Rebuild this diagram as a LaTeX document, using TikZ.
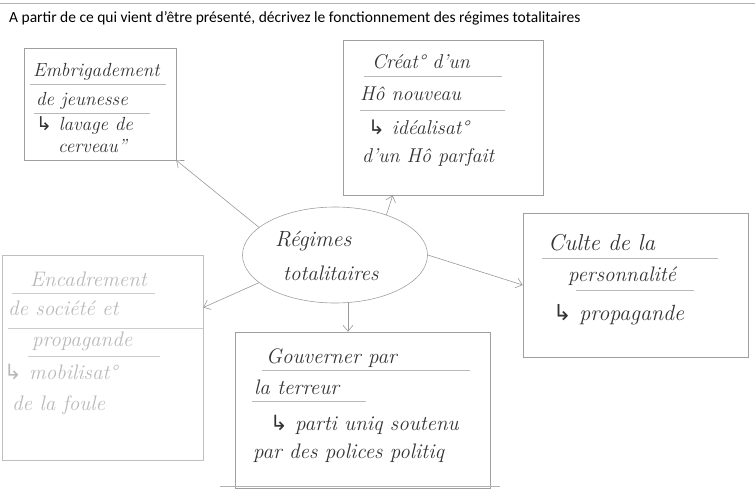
\documentclass[tikz,border=0pt]{standalone}
\usepackage{fontspec}
\usepackage{tikz}
\usetikzlibrary{shapes.geometric,arrows.meta}
\newfontfamily\titlefont{Carlito}
\newfontfamily\symfont{DejaVu Sans}
\newcommand{\hook}{{\symfont\char"21B3}}
\newcommand{\handsize}[1]{\fontsize{#1}{#1}\selectfont\itshape}

\tikzset{
  box/.style={draw=gray!75, line width=0.6pt, minimum width=#1},
  hand/.style={font=\handsize{19}, text=black!80, anchor=base west, inner sep=0pt},
  faint/.style={hand, font=\handsize{21}, text=gray!55},
  uline/.style={draw=gray!55, line width=0.5pt},
  link/.style={draw=gray!80, line width=0.6pt, -{Straight Barb[length=6pt,width=10pt]}}
}

\begin{document}
\begin{tikzpicture}[x=1pt,y=-1pt]
\useasboundingbox (0,0) rectangle (755,493);
\draw[gray!60, line width=0.8pt] (0,3) -- (755,3);
\node[anchor=base west, inner sep=0pt, font=\titlefont\fontsize{15.5}{17}\selectfont] (title) at (9,22)
  {A partir de ce qui vient d’être présenté, décrivez le fonctionnement des régimes totalitaires};

% les cases
\node[box=152pt, minimum height=112pt] (emb) at (100,104) {};
\node[box=200pt, minimum height=155pt] (homme) at (443,117.5) {};
\node[box=225pt, minimum height=144pt] (culte) at (635.5,285) {};
\node[box=201pt, minimum height=205pt, draw=gray!50] (enc) at (102.5,357.5) {};
\node[box=255pt, minimum height=156pt] (terreur) at (362.5,410) {};
\node[draw=gray!75, line width=0.6pt, ellipse, minimum width=185pt, minimum height=96pt] (reg) at (335,255) {};

% le centre
\node[hand, font=\handsize{22}] (reg1) at (275,246) {Régimes};
\node[hand, font=\handsize{21}] (reg2) at (283,280) {totalitaires};

% Embrigadement
\node[hand] (emb1) at (33,76) {Embrigadement};
\draw[uline] (30,84) -- (166,84);
\node[hand] (emb2) at (36,105) {de jeunesse};
\draw[uline] (34,113) -- (150,113);
\node[hand] (emb3) at (36,130) {\hook\ lavage de};
\node[hand] (emb4) at (58,152) {cerveau''};

% Creation d'un homme nouveau
\node[hand, font=\handsize{20}] (hom1) at (372,68) {Créat° d’un};
\draw[uline] (364,76) -- (502,76);
\node[hand, font=\handsize{20}] (hom2) at (360,100) {Hô nouveau};
\draw[uline] (360,110) -- (505,110);
\node[hand, font=\handsize{20}] (hom3) at (368,134) {\hook\ idéalisat°};
\node[hand, font=\handsize{20}] (hom4) at (362,162) {d’un Hô parfait};

% Culte de la personnalite
\node[hand, font=\handsize{23}] (cul1) at (548,250) {Culte de la};
\draw[uline] (542,258) -- (718,258);
\node[hand, font=\handsize{21}] (cul2) at (568,281) {personnalité};
\draw[uline] (576,290) -- (694,290);
\node[hand, font=\handsize{22}] (cul3) at (553,320) {\hook\ propagande};

% Encadrement
\node[faint] (enc1) at (30,286) {Encadrement};
\draw[uline, gray!40] (12,293) -- (155,293);
\node[faint] (enc2) at (8,315) {de société et};
\draw[uline, gray!40] (8,328) -- (203,328);
\node[faint] (enc3) at (32,346) {propagande};
\draw[uline, gray!40] (28,356) -- (160,356);
\node[faint] (enc4) at (4,379) {\hook\ mobilisat°};
\node[faint] (enc5) at (12,410) {de la foule};

% Gouverner par la terreur
\node[hand, font=\handsize{21}] (ter1) at (266,363) {Gouverner par};
\draw[uline] (262,370) -- (470,370);
\node[hand, font=\handsize{21}] (ter2) at (254,394) {la terreur};
\draw[uline] (252,401) -- (366,401);
\node[hand, font=\handsize{21}] (ter3) at (270,430) {\hook\ parti uniq soutenu};
\node[hand, font=\handsize{21}] (ter4) at (253,458) {par des polices politiq};
\draw[gray!60, line width=0.6pt] (220,486) -- (500,486);

% les fleches
\draw[link] (reg.160) -- (emb.south east);
\draw[link] (reg.38) -- ([xshift=50pt]homme.south west);
\draw[link] (reg.east) -- (culte.west);
\draw[link] (reg.200) -- ([yshift=50pt]enc.east);
\draw[link] ([xshift=13pt]reg.south) -- ([xshift=13pt]reg.south |- terreur.north);
\end{tikzpicture}
\end{document}
